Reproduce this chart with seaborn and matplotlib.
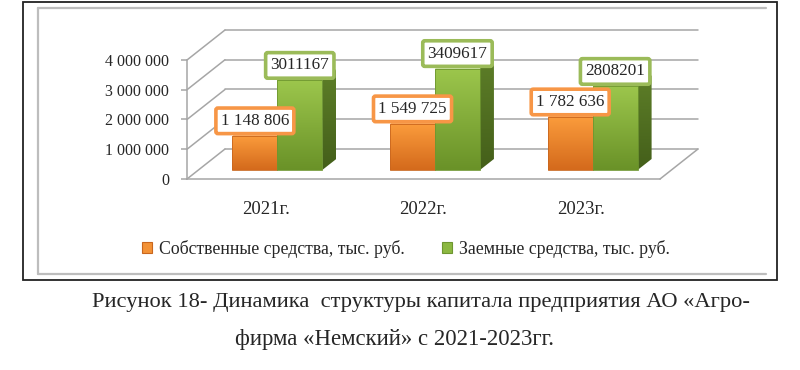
import numpy as np
import pandas as pd
import matplotlib
matplotlib.use('Agg')
import matplotlib.pyplot as plt
from matplotlib.patches import Polygon, Patch
from matplotlib.colors import LinearSegmentedColormap
import seaborn as sns

# data
years = ['2021г.', '2022г.', '2023г.']
own_funds = [1148806, 1549725, 1782636]
borrowed_funds = [3011167, 3409617, 2808201]
series_names = ['Собственные средства, тыс. руб.', 'Заемные средства, тыс. руб.']
y_ticks = [0, 1000000, 2000000, 3000000, 4000000]

caption_1 = 'Рисунок 18- Динамика  структуры капитала предприятия АО «Агро-'
caption_2 = 'фирма «Немский» с 2021-2023гг.'

# colours (bottom, top) for front / side / top faces
COLORS = {
    0: dict(main='#f39236', front=('#d46a1c', '#fb9c3c'), side=('#a8521a', '#c8682a'),
            top=('#f7a24e', '#fbb268'), edge='#c9661e', label='#f79646'),
    1: dict(main='#8cb841', front=('#6a9228', '#9cc64c'), side=('#445f1a', '#5d7e28'),
            top=('#a4cb5c', '#b3d46e'), edge='#6e9630', label='#9bbb59'),
}
GRID = '#a6a6a6'

sns.set_style('white')
plt.rcParams['font.family'] = ['Liberation Serif', 'DejaVu Serif']

W, H = 800, 370
fig = plt.figure(figsize=(W / 100, H / 100), dpi=100)

# outer frames
fig.add_artist(plt.Rectangle((23 / W, 1 - 280 / H), 754 / W, 278 / H, transform=fig.transFigure,
                             fill=False, ec='#222222', lw=1.3))
for xs, ys in [([38, 766], [8, 8]), ([38, 38], [8, 274]), ([38, 766], [274, 274])]:
    fig.add_artist(plt.Line2D([x / W for x in xs], [1 - y / H for y in ys],
                              transform=fig.transFigure, color='#bdbdbd', lw=1.6))

# axes = front plane of the 3d box
ax_l, ax_r, ax_t, ax_b = 187, 660, 60, 179
ax = fig.add_axes([ax_l / W, 1 - ax_b / H, (ax_r - ax_l) / W, (ax_b - ax_t) / H])
ux = 3 / (ax_r - ax_l)
uy = max(y_ticks) / (ax_b - ax_t)

df = pd.DataFrame({
    'year': years * 2,
    'series': [series_names[0]] * len(years) + [series_names[1]] * len(years),
    'value': own_funds + borrowed_funds,
})
sns.barplot(data=df, x='year', y='value', hue='series',
            palette=[COLORS[0]['main'], COLORS[1]['main']],
            width=0.57, gap=0, saturation=1, errorbar=None, legend=False, ax=ax)

# back wall / floor
BDX, BDY = 38 * ux, 30 * uy
for t in y_ticks:
    ax.plot([-0.5, -0.5 + BDX], [t, t + BDY], color=GRID, lw=1.1, clip_on=False, zorder=1)
    ax.plot([-0.5 + BDX, 2.5 + BDX], [t + BDY, t + BDY], color=GRID, lw=1.1, clip_on=False, zorder=1)
ax.plot([2.5, 2.5 + BDX], [0, BDY], color=GRID, lw=1.1, clip_on=False, zorder=1)


def grad_fill(verts, c_bot, c_top, z):
    poly = Polygon(verts, closed=True, fc='none', ec='none', zorder=z)
    ax.add_patch(poly)
    xs = [v[0] for v in verts]
    ys = [v[1] for v in verts]
    cmap = LinearSegmentedColormap.from_list('g', [c_bot, c_top])
    im = ax.imshow(np.linspace(0, 1, 64).reshape(-1, 1), extent=(min(xs), max(xs), min(ys), max(ys)),
                   origin='lower', aspect='auto', cmap=cmap, zorder=z, interpolation='bilinear')
    im.set_clip_path(poly)
    return poly


# fake 3d bars
OX, OY = 11.5 * ux, 9 * uy      # bar plane offset inside the box
DX, DY = 14 * ux, 11 * uy       # bar depth
bars = list(ax.patches)
n = len(years)
order = sorted(range(len(bars)), key=lambda i: (round(bars[i].get_x() + 0.5, 0), i // n))
z = 3
for i in order:
    p = bars[i]
    s = i // n
    c = COLORS[s]
    x0 = p.get_x() + OX
    x1 = x0 + p.get_width()
    y0 = OY
    y1 = OY + p.get_height()
    p.set_visible(False)
    grad_fill([(x0, y0), (x1, y0), (x1, y1), (x0, y1)], *c['front'], z)
    grad_fill([(x1, y0), (x1 + DX, y0 + DY), (x1 + DX, y1 + DY), (x1, y1)], *c['side'], z)
    grad_fill([(x0, y1), (x0 + DX, y1 + DY), (x1 + DX, y1 + DY), (x1, y1)], *c['top'], z)
    ax.add_patch(Polygon([(x0, y0), (x1, y0), (x1, y1), (x0, y1)], closed=True, fc='none',
                         ec=c['edge'], lw=0.6, zorder=z + 0.1))
    z += 1

    v = p.get_height()
    txt = f"{int(round(v)):,}".replace(',', ' ') if s == 0 else f"{int(round(v))}"
    ax.text((x0 + x1) / 2, y1 + 15 * uy, txt, ha='center', va='center', fontsize=12.3, zorder=20,
            bbox=dict(boxstyle='round,pad=0.28,rounding_size=0.12', fc='white', ec=c['label'], lw=2.6))

ax.set_xlim(-0.5, 2.5)
ax.set_ylim(0, max(y_ticks))
ax.set_yticks(y_ticks)
ax.set_yticklabels([f"{t:,}".replace(',', ' ') for t in y_ticks], fontsize=11.5)
ax.set_xticks(range(len(years)))
ax.set_xticklabels(years, fontsize=13.5)
ax.set_xticks(np.arange(-0.5, len(years)), minor=True)
ax.tick_params(axis='x', which='major', length=0, pad=16)
ax.tick_params(axis='x', which='minor', length=5, color=GRID, width=1.1, direction='out')
ax.tick_params(axis='y', length=4, color=GRID, width=1.1, direction='out', pad=9, left=True)
ax.set_xlabel('')
ax.set_ylabel('')
for side in ['top', 'right']:
    ax.spines[side].set_visible(False)
for side in ['left', 'bottom']:
    ax.spines[side].set_color(GRID)
    ax.spines[side].set_linewidth(1.1)
ax.patch.set_alpha(0)

# legend
handles = [Patch(fc=COLORS[s]['main'], ec=COLORS[s]['edge'], lw=0.8) for s in range(2)]
fig.legend(handles, series_names, loc='center', bbox_to_anchor=(406 / W, 1 - 249 / H), ncol=2,
           frameon=False, fontsize=12.8, handlelength=0.55, handleheight=0.55, handletextpad=0.4,
           columnspacing=2.1)

# caption
fig.text(92 / W, 1 - 307 / H, caption_1, fontsize=16.2, ha='left', va='baseline')
fig.text(235 / W, 1 - 345 / H, caption_2, fontsize=16.4, ha='left', va='baseline')

fig.savefig('out.png', dpi=100)
